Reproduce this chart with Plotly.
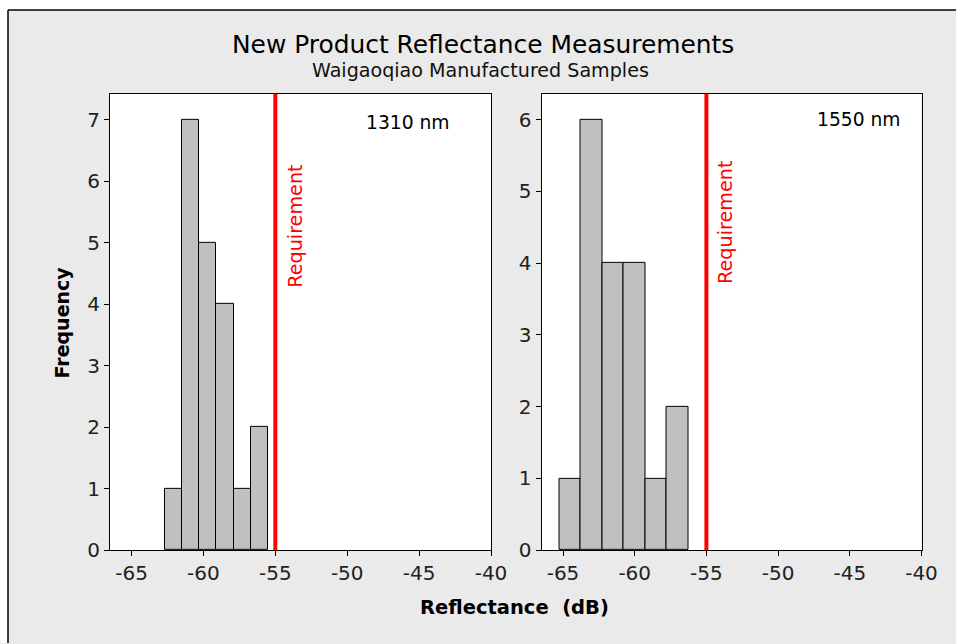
import plotly.graph_objects as go

# ---- data ----
edges_1310 = [-62.7, -61.5, -60.3, -59.1, -57.9, -56.7, -55.5]
counts_1310 = [1, 7, 5, 4, 1, 2]
edges_1550 = [-65.25, -63.75, -62.25, -60.75, -59.25, -57.75, -56.25]
counts_1550 = [1, 6, 4, 4, 1, 2]
requirement = -55
x_ticks = [-65, -60, -55, -50, -45, -40]
x_ticklabels = ["-65", "-60", "-55", "-50", "-45", "-40"]
panel_labels = ["1310 nm", "1550 nm"]
title = "New Product Reflectance Measurements"
subtitle = "Waigaoqiao Manufactured Samples"

W, H = 956, 644          # reference pixel frame
FW, FH = 972, 655        # figure size
FONT = "DejaVu Sans"


def bars(edges, counts, xa, ya):
    centers = [(a + b) / 2 for a, b in zip(edges[:-1], edges[1:])]
    widths = [b - a for a, b in zip(edges[:-1], edges[1:])]
    return go.Bar(x=centers, y=counts, width=widths, xaxis=xa, yaxis=ya,
                  marker=dict(color="#c0c0c0", line=dict(color="black", width=1)),
                  showlegend=False, hoverinfo="x+y")


fig = go.Figure()
fig.add_trace(bars(edges_1310, counts_1310, "x", "y"))
fig.add_trace(bars(edges_1550, counts_1550, "x2", "y2"))

ax_common = dict(showline=True, mirror=True, linecolor="black", linewidth=1,
                 ticks="outside", ticklen=5, tickcolor="black", showgrid=False,
                 zeroline=False, tickfont=dict(family=FONT, size=20, color="#222"))
ydom = [1 - 551 / H, 1 - 94 / H]
fig.update_layout(
    width=FW, height=FH, margin=dict(l=0, r=0, t=0, b=0),
    paper_bgcolor="#eaeaea", plot_bgcolor="white", bargap=0,
    font=dict(family=FONT, color="black"),
    xaxis=dict(domain=[110 / W, 491 / W], range=[-66.5, -40], tickvals=x_ticks,
               ticktext=x_ticklabels, anchor="y", **ax_common),
    yaxis=dict(domain=ydom, range=[0, 7.42], dtick=1, anchor="x", **ax_common),
    xaxis2=dict(domain=[541.5 / W, 921.5 / W], range=[-66.5, -40], tickvals=x_ticks,
                ticktext=x_ticklabels, anchor="y2", **ax_common),
    yaxis2=dict(domain=ydom, range=[0, 6.36], dtick=1, anchor="x2", **ax_common),
)

fx0, fy1 = 8 / W, 1 - 10 / H
shapes = [
    dict(type="rect", xref="paper", yref="paper", x0=0, y0=fy1, x1=1, y1=1,
         fillcolor="white", line=dict(width=0), layer="below"),
    dict(type="rect", xref="paper", yref="paper", x0=0, y0=0, x1=fx0, y1=1,
         fillcolor="white", line=dict(width=0), layer="below"),
    dict(type="line", xref="paper", yref="paper", x0=fx0, y0=0, x1=fx0, y1=fy1,
         line=dict(color="black", width=1.5)),
    dict(type="line", xref="paper", yref="paper", x0=fx0, y0=fy1, x1=1, y1=fy1,
         line=dict(color="black", width=1.5)),
]
for xr, yr in [("x", "y"), ("x2", "y2")]:
    shapes.append(dict(type="line", xref=xr, yref=yr + " domain", x0=requirement,
                       x1=requirement, y0=0, y1=1, line=dict(color="red", width=4)))
fig.update_layout(shapes=shapes)

center = dict(xanchor="center", yanchor="middle", showarrow=False)
ann = [
    dict(text=title, xref="paper", yref="paper", x=483 / W, y=1 - 45 / H,
         font=dict(size=24.9, family=FONT, color="black"), **center),
    dict(text=subtitle, xref="paper", yref="paper", x=481 / W, y=1 - 71 / H,
         font=dict(size=19.1, family=FONT, color="#111"), **center),
    dict(text="<b>Frequency</b>", xref="paper", yref="paper", x=62 / W, y=1 - 323 / H,
         textangle=-90, font=dict(size=19, family=FONT, color="black"), **center),
    dict(text="<b>Reflectance  (dB)</b>", xref="paper", yref="paper", x=514 / W,
         y=1 - 608 / H, font=dict(size=19.5, family=FONT, color="black"), **center),
    dict(text="Requirement", xref="x", yref="y", x=requirement, y=5.28, xshift=20,
         textangle=-90, font=dict(size=19.2, family=FONT, color="red"), **center),
    dict(text="Requirement", xref="x2", yref="y2", x=requirement, y=4.58, xshift=19,
         textangle=-90, font=dict(size=19.2, family=FONT, color="red"), **center),
    dict(text=panel_labels[0], xref="x", yref="y", x=-42.7, y=6.96, xanchor="right",
         yanchor="middle", showarrow=False,
         font=dict(size=18.7, family=FONT, color="black")),
    dict(text=panel_labels[1], xref="x2", yref="y2", x=-41.3, y=6.0, xanchor="right",
         yanchor="middle", showarrow=False,
         font=dict(size=18.7, family=FONT, color="black")),
]
fig.update_layout(annotations=ann)

fig.write_html("out.html")
